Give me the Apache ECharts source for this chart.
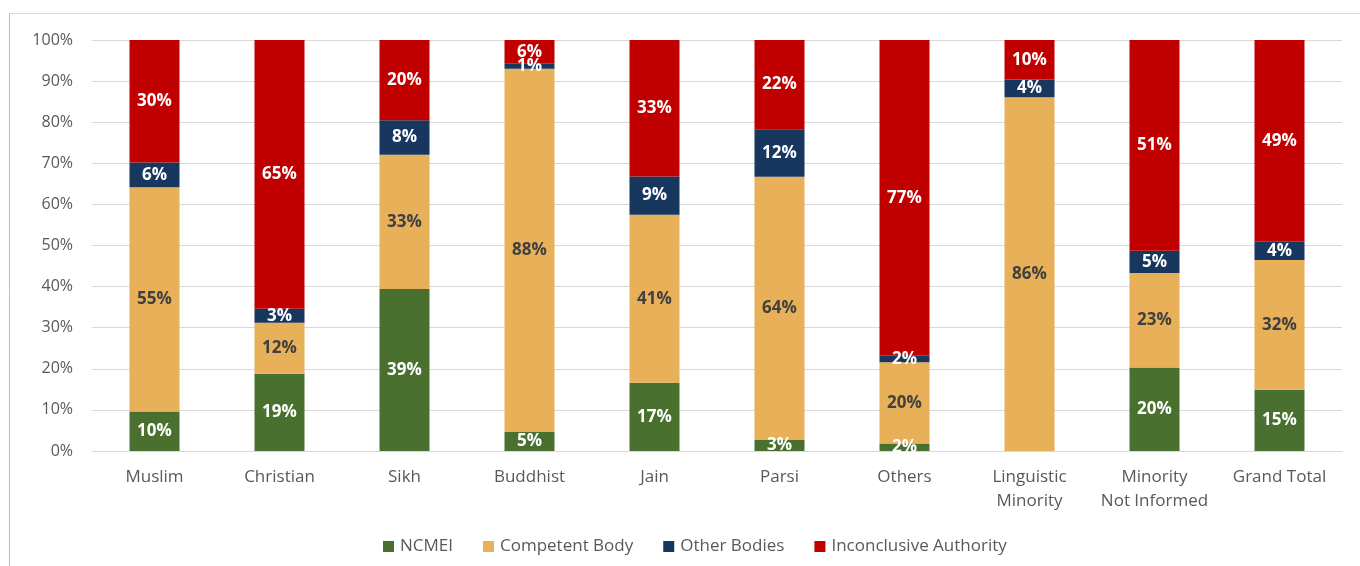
<!DOCTYPE html>
<html>
<head>
<meta charset="utf-8">
<script src="https://cdn.jsdelivr.net/npm/echarts@6/dist/echarts.min.js"></script>
<style>
  html, body { margin: 0; padding: 0; background: #fff; }
  #chart { width: 1360px; height: 566px; }
</style>
</head>
<body>
<div id="chart"></div>
<script>
// categories (x axis)
const categories = ['Muslim', 'Christian', 'Sikh', 'Buddhist', 'Jain', 'Parsi', 'Others',
  'Linguistic\nMinority', 'Minority\nNot Informed', 'Grand Total']

// share of cases per category, in %
const ncmei        = [9.6, 18.8, 39.4, 4.6, 16.6, 2.7, 1.8, 0, 20.3, 14.9]
const competent    = [54.6, 12.4, 32.7, 88.4, 40.9, 64.0, 19.8, 86.1, 23.0, 31.6]
const otherBodies  = [6.0, 3.4, 8.4, 1.2, 9.3, 11.6, 1.6, 4.3, 5.4, 4.4]
const inconclusive = [29.8, 65.4, 19.5, 5.8, 33.2, 21.7, 76.8, 9.6, 51.3, 49.1]

const chart = echarts.init(document.getElementById('chart'))

const pct = (p) => p.value > 0 ? Math.round(p.value) + '%' : ''

const makeSeries = (name, data, color, labelColor) => ({
  name: name,
  type: 'bar',
  stack: 'total',
  barWidth: 50,
  data: data,
  itemStyle: { color: color },
  label: {
    show: true,
    position: 'inside',
    formatter: pct,
    color: labelColor,
    fontFamily: 'Open Sans',
    fontWeight: 'bold',
    fontSize: 17
  }
})

chart.setOption({
  animation: false,
  textStyle: { fontFamily: 'Open Sans' },
  graphic: [
    { type: 'line', shape: { x1: 9.5, y1: 13.5, x2: 1360, y2: 13.5 }, style: { stroke: '#d9d9d9', lineWidth: 1 } },
    { type: 'line', shape: { x1: 9.5, y1: 13.5, x2: 9.5, y2: 566 }, style: { stroke: '#bfbfbf', lineWidth: 1 } }
  ],
  grid: { left: 92, right: 18, top: 40, bottom: 115 },
  legend: {
    left: 378,
    top: 533,
    itemWidth: 11,
    itemHeight: 11,
    itemGap: 30,
    icon: 'rect',
    textStyle: { color: '#595959', fontSize: 17, fontFamily: 'Open Sans', padding: [0, 0, 0, 1] },
    data: ['NCMEI', 'Competent Body', 'Other Bodies', 'Inconclusive Authority']
  },
  xAxis: {
    type: 'category',
    data: categories,
    axisLine: { lineStyle: { color: '#d9d9d9' } },
    axisTick: { show: false },
    axisLabel: { color: '#595959', fontSize: 17, lineHeight: 24, margin: 14, interval: 0 }
  },
  yAxis: {
    type: 'value',
    min: 0,
    max: 100,
    interval: 10,
    axisLine: { show: false },
    axisTick: { show: false },
    splitLine: { lineStyle: { color: '#d9d9d9' } },
    axisLabel: { color: '#595959', fontSize: 16, margin: 19, formatter: '{value}%' }
  },
  series: [
    makeSeries('NCMEI', ncmei, '#4a7030', '#ffffff'),
    makeSeries('Competent Body', competent, '#e8b058', '#404040'),
    makeSeries('Other Bodies', otherBodies, '#17375e', '#ffffff'),
    makeSeries('Inconclusive Authority', inconclusive, '#c00000', '#ffffff')
  ]
})

window.addEventListener('resize', () => chart.resize())
</script>
</body>
</html>
